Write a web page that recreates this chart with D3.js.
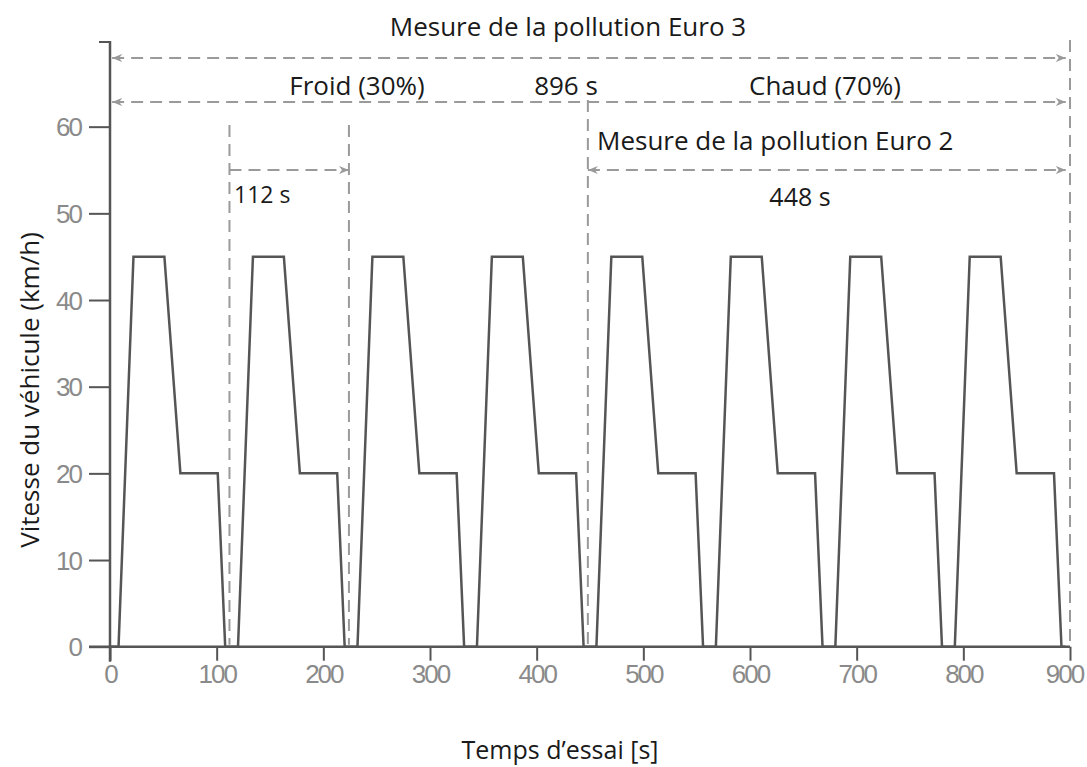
<!DOCTYPE html>
<meta charset="utf-8">
<style>
	body { margin: 0; background: #fff; }
	svg text { font-family: "Open Sans", "DejaVu Sans", sans-serif; }
	.tick text { font-family: "Liberation Sans", Arial, sans-serif; fill: #8a8a8a; font-size: 26px; letter-spacing: -2px; }
	.tick line { stroke: #555; stroke-width: 2px; }
	.note line { stroke: #9a9a9a; stroke-width: 2px; stroke-dasharray: 12 7; }
</style>
<svg width="1087" height="767"></svg>
<script src="https://d3js.org/d3.v7.min.js"></script>
<script>
	// data: vehicle speed (km/h) vs test time (s), 8 urban cycles of 112 s
	var times = [0,
		8, 22, 51, 66, 101, 108,
		120, 134, 163, 178, 213, 220,
		232, 246, 275, 290, 325, 332,
		344, 358, 387, 402, 437, 444,
		456, 470, 499, 514, 549, 556,
		568, 582, 611, 626, 661, 668,
		680, 694, 723, 738, 773, 780,
		792, 806, 835, 850, 885, 892,
		896];
	var speeds = [0,
		0, 45, 45, 20, 20, 0,
		0, 45, 45, 20, 20, 0,
		0, 45, 45, 20, 20, 0,
		0, 45, 45, 20, 20, 0,
		0, 45, 45, 20, 20, 0,
		0, 45, 45, 20, 20, 0,
		0, 45, 45, 20, 20, 0,
		0, 45, 45, 20, 20, 0,
		0];
	var xTicks = [0, 100, 200, 300, 400, 500, 600, 700, 800, 900];
	var yTicks = [0, 10, 20, 30, 40, 50, 60];
	// phase marks (s)
	var coldEnd = 112, euro2Start = 448, testEnd = 896;

	var svg = d3.select("svg");
	var x = d3.scaleLinear().domain([0, 900]).range([110, 1070]);
	var y = d3.scaleLinear().domain([0, 70]).range([646.7, 40]);

	// markers
	var defs = svg.append("defs");
	defs.append("marker").attr("id", "arrowR")
		.attr("viewBox", "0 0 10 8").attr("refX", 10).attr("refY", 4)
		.attr("markerWidth", 10).attr("markerHeight", 8).attr("markerUnits", "userSpaceOnUse")
		.attr("orient", "auto")
		.append("path").attr("d", "M0,0 L10,4 L0,8 L3,4 z").attr("fill", "#9a9a9a");
	defs.append("marker").attr("id", "arrowL")
		.attr("viewBox", "0 0 10 8").attr("refX", 0).attr("refY", 4)
		.attr("markerWidth", 10).attr("markerHeight", 8).attr("markerUnits", "userSpaceOnUse")
		.attr("orient", "auto")
		.append("path").attr("d", "M10,0 L0,4 L10,8 L7,4 z").attr("fill", "#9a9a9a");

	// axes
	var gx = svg.append("g").attr("transform", "translate(0," + y(0) + ")")
		.call(d3.axisBottom(x).tickValues(xTicks).tickSize(14).tickPadding(4));
	gx.select(".domain").remove();
	// last label sits on the page edge, pull it in a little
	gx.selectAll(".tick text").filter(function(d) { return d === 900; }).attr("dx", -6);
	var gy = svg.append("g").attr("transform", "translate(" + x(0) + ",0)")
		.call(d3.axisLeft(y).tickValues(yTicks).tickSize(21).tickPadding(8));
	gy.select(".domain").remove();
	gy.selectAll(".tick text").attr("dy", "0.35em");
	// top bracket tick
	svg.append("line").attr("x1", x(0) - 11).attr("x2", x(0))
		.attr("y1", y(70) + 2).attr("y2", y(70) + 2).attr("stroke", "#555").attr("stroke-width", 2);
	// spines
	svg.append("line").attr("x1", x(0)).attr("x2", x(0))
		.attr("y1", y(70) + 1).attr("y2", y(0) + 15).attr("stroke", "#555").attr("stroke-width", 2.5);
	svg.append("line").attr("x1", x(0) - 21).attr("x2", x(900))
		.attr("y1", y(0)).attr("y2", y(0)).attr("stroke", "#555").attr("stroke-width", 2.5);

	// annotations
	var note = svg.append("g").attr("class", "note");
	function vline(t, top) {
		note.append("line").attr("x1", x(t)).attr("x2", x(t)).attr("y1", top).attr("y2", y(0) - 2);
	}
	vline(coldEnd, 125);
	vline(2 * coldEnd, 125);
	vline(euro2Start, 100);
	vline(testEnd + 4, 40);
	function hline(t0, t1, yy, left, right) {
		var l = note.append("line").attr("x1", x(t0)).attr("x2", x(t1)).attr("y1", yy).attr("y2", yy);
		if (left) l.attr("marker-start", "url(#arrowL)");
		if (right) l.attr("marker-end", "url(#arrowR)");
	}
	hline(2, testEnd, 58, true, true);
	hline(2, testEnd, 102, true, true);
	hline(coldEnd, 2 * coldEnd, 170, false, true);
	hline(euro2Start, testEnd, 170, true, true);

	function label(txt, px, py, size, anchor) {
		svg.append("text").attr("x", px).attr("y", py).attr("font-size", size)
			.attr("text-anchor", anchor || "middle").attr("dy", "0.35em").attr("fill", "#1a1a1a").text(txt);
	}
	label("Mesure de la pollution Euro 3", 568, 27, 26);
	label("Froid (30%)", 357, 86, 26);
	label("896 s", 566, 86, 26);
	label("Chaud (70%)", 825, 86, 26);
	label("Mesure de la pollution Euro 2", 597, 141, 26, "start");
	label("112 s", 234, 195, 23, "start");
	label("448 s", 800, 197, 25);

	// axis titles
	label("Temps d\u2019essai [s]", 560, 750, 25);
	svg.append("text").attr("transform", "translate(30,390) rotate(-90)")
		.attr("text-anchor", "middle").attr("dy", "0.35em").attr("font-size", 26)
		.attr("fill", "#1a1a1a").text("Vitesse du véhicule (km/h)");

	// speed profile
	var line = d3.line().x(function(d, i) { return x(times[i]); }).y(function(d) { return y(d); });
	svg.append("path").datum(speeds).attr("d", line)
		.attr("fill", "none").attr("stroke", "#555").attr("stroke-width", 2.5)
		.attr("stroke-linejoin", "miter");
</script>
